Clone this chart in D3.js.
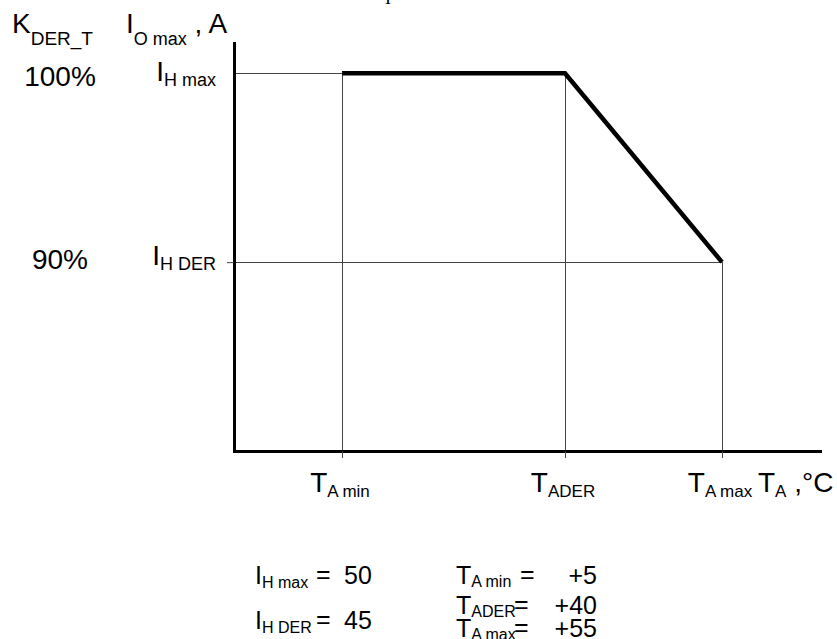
<!DOCTYPE html>
<html>
<head>
<meta charset="utf-8">
<script src="https://cdn.jsdelivr.net/npm/d3@7"></script>
<style>
  body { margin: 0; background: #fff; }
  svg { display: block; font-family: "Liberation Sans", Arial, sans-serif; }
</style>
</head>
<body>
<svg width="837" height="639"></svg>
<script>
// derating points (temperature, output current)
var tempSubs = ["A min", "ADER", "A max"];
var tempValues = [5, 40, 55];
var lineCurrents = [50, 50, 45];

// current levels shown on the left
var levelSubs = ["H max", "H DER"];
var levelCurrents = [50, 45];
var levelPercents = [100, 90];

var FS = 28, SUB = 19;

var svg = d3.select("svg");

// schematic axes: temperature axis is not to scale, so piecewise
var x = d3.scaleLinear().domain([0, 5, 40, 55, 70]).range([234, 342, 565, 722, 820]);
var y = d3.scaleLinear().domain([40, 50.8]).range([451, 43]);

// helper: symbol + subscript (+ rest)
function symText(g, xx, yy, sym, sub, rest, shift, anchor, fs, sfs) {
  var t = g.append("text").attr("x", xx).attr("y", yy)
    .attr("font-size", fs || FS).attr("fill", "#000")
    .attr("text-anchor", anchor || "start")
    .attr("xml:space", "preserve");
  t.append("tspan").text(sym);
  t.append("tspan").attr("font-size", sfs || SUB).attr("dy", shift).text(sub);
  if (rest) t.append("tspan").attr("dy", -shift).text(rest);
  return t;
}

// gridlines
var grid = svg.append("g").attr("stroke", "#444").attr("stroke-width", 1);

levelCurrents.forEach(function(c) {
  var tEnd = d3.max(tempValues.filter(function(t, i) { return lineCurrents[i] === c; }));
  grid.append("line")
    .attr("x1", x(0)).attr("x2", x(tEnd))
    .attr("y1", Math.round(y(c)) + 0.5).attr("y2", Math.round(y(c)) + 0.5);
});

tempValues.forEach(function(t, i) {
  grid.append("line")
    .attr("x1", Math.round(x(t)) + 0.5).attr("x2", Math.round(x(t)) + 0.5)
    .attr("y1", y(lineCurrents[i])).attr("y2", y(40));
});

// axes
var xAxis = svg.append("g").attr("transform", "translate(0," + y(40) + ")")
  .call(d3.axisBottom(x).tickValues(tempValues).tickSize(7).tickSizeOuter(0).tickFormat(""));
var yAxis = svg.append("g").attr("transform", "translate(" + x(0) + ",0)")
  .call(d3.axisLeft(y).tickValues([levelCurrents[1]]).tickSize(7).tickSizeOuter(0).tickFormat(""));

[xAxis, yAxis].forEach(function(a) {
  a.select(".domain").attr("stroke", "#000").attr("stroke-width", 3).attr("stroke-linecap", "square");
  a.selectAll(".tick line").attr("stroke", "#444").attr("stroke-width", 1);
});

// derating curve
var pts = tempValues.map(function(t, i) { return [t, lineCurrents[i]]; });
svg.append("path")
  .attr("d", d3.line().x(function(d) { return x(d[0]); }).y(function(d) { return y(d[1]); })(pts))
  .attr("fill", "none").attr("stroke", "#000").attr("stroke-width", 4.5);

// top-left headers
symText(svg, 12, 33, "K", "DER_T", null, 12);
symText(svg, 126, 33, "I", "O max", " , A", 12, null, 28, 18);

// level labels
levelCurrents.forEach(function(c, i) {
  var yy = y(c);
  svg.append("text").attr("x", 60).attr("y", yy + (i === 0 ? 13 : 7))
    .attr("font-size", FS).attr("text-anchor", "middle").text(levelPercents[i] + "%");
  symText(svg, 216, yy + (i === 0 ? 8 : 3), "I", levelSubs[i], null, 5, "end", 28, 18);
});

// temperature tick labels
tempValues.forEach(function(t, i) {
  symText(svg, x(t) - 2, 492, "T", tempSubs[i], null, 5, "middle", 28, 17);
});
symText(svg, 758, 492, "T", "A", " ,°C", 5, null, 28, 17);

// parameter list
var LF = 25, LS = 16;
var fmtT = d3.format("+");
var iRows = [584, 629];
levelCurrents.forEach(function(c, i) {
  symText(svg, 255, iRows[i], "I", levelSubs[i], null, 4, null, LF, LS);
  svg.append("text").attr("x", 316).attr("y", iRows[i] - 1).attr("font-size", LF).text("=");
  svg.append("text").attr("x", 344).attr("y", iRows[i]).attr("font-size", LF).text(c);
});
var tRows = [584, 614, 637];
tempValues.forEach(function(t, i) {
  symText(svg, 456, tRows[i], "T", tempSubs[i], null, 3, null, LF, LS);
  svg.append("text").attr("x", i === 0 ? 520 : 514).attr("y", tRows[i] - 1).attr("font-size", LF).text("=");
  svg.append("text").attr("x", 597).attr("y", tRows[i]).attr("font-size", LF)
    .attr("text-anchor", "end").text(fmtT(t));
});

// cropped caption remnant at the very top
svg.append("text").attr("x", 385).attr("y", 4).attr("font-size", 18)
  .attr("font-family", "Liberation Serif, serif").text("I");
</script>
</body>
</html>
